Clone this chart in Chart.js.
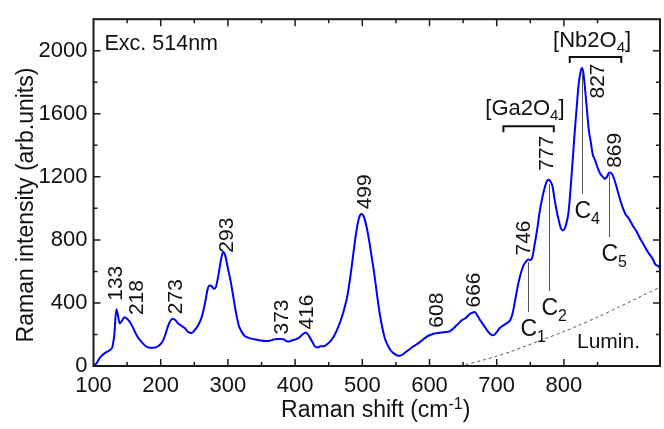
<!DOCTYPE html>
<html>
<head>
<meta charset="utf-8">
<script src="https://cdn.jsdelivr.net/npm/chart.js@4.4.1/dist/chart.umd.min.js"></script>
<style>
  html, body { margin: 0; padding: 0; background: #fff; overflow: hidden; }
  #wrap { width: 667px; height: 429px; }
</style>
</head>
<body>
<div id="wrap"><canvas id="ramanChart" width="667" height="429"></canvas></div>
<script>
// spectrum
const shift = [100,104,110,118,124,128,131,134,136,139,142,146,150,154,158,163,168,173,178,183,190,196,202,207,211,215,218,222,226,231,236,241,246,251,256,261,266,270,273,276,279,282,286,290,293,296,300,304,308,312,316,320,325,330,336,342,348,355,362,368,373,378,383,387,391,395,400,406,411,416,419,422,426,430,434,438,443,448,453,458,463,468,473,478,482,486,490,494,497,499,502,506,510,514,518,522,526,530,534,538,542,547,552,556,560,565,570,576,582,588,594,600,606,612,618,624,630,636,642,648,654,660,664,667,670,674,678,682,686,690,694,697,700,704,710,716,720,724,728,732,736,740,744,747,750,753,756,760,764,768,772,775,777,780,783,786,789,792,795,798,801,804,807,810,813,816,819,822,825,827,829,831,834,837,840,843,846,850,854,858,861,864,867,869,872,876,880,884,888,892,896,900,904,908,912,916,920,924,928,932,936,940,943];
const intensity = [0,15,55,85,100,120,200,360,330,270,285,310,300,280,250,205,170,145,125,115,115,125,150,200,255,290,300,290,270,255,240,215,210,230,260,310,400,490,510,505,490,500,580,680,725,700,620,540,440,340,260,220,190,180,172,168,162,158,160,168,172,172,170,158,155,162,168,180,200,212,200,180,150,122,118,125,125,140,160,190,235,290,360,450,560,690,820,920,960,965,950,890,800,690,580,450,330,240,170,130,100,80,67,65,73,90,105,125,140,160,180,195,205,210,212,215,220,240,265,290,305,330,338,342,330,300,275,250,225,205,195,200,215,238,258,275,290,340,430,520,590,640,665,675,672,690,760,860,980,1070,1140,1175,1182,1170,1140,1060,990,930,880,860,870,910,980,1130,1300,1480,1640,1790,1870,1890,1860,1780,1640,1500,1420,1340,1310,1260,1220,1200,1188,1200,1225,1228,1215,1170,1110,1050,1000,960,940,910,880,855,820,790,760,730,705,680,645,635,622];
// luminescence background (dotted)
const luminShift = [645,655,680,700,720,744,770,800,820,850,880,910,943];
const luminLevel = [0,10,38,62,90,128,170,218,254,310,370,432,500];

// peak labels and where they sit (data units)
const peakLabels = ['133','218','273','293','373','416','499','608','666','746','777','827','869'];
const peakLabelX = [131,162.7,220,297,378,415,502,609.6,664,738,773,848.5,873.6];
const peakLabelY = [525,434,440,830,311,342,1105,354,482,812,1350,1808,1368];

// component markers C1..C5: x, line top, line bottom (data units)
const compNames = ['1','2','4','5'];
const compX = [746,777.5,826.4,867.7];
const compTop = [660,1154,1869,1215];
const compBottom = [342,476,1093,818];

const X_MIN = 100, X_MAX = 943, Y_MIN = 0, Y_MAX = 2200;
const FONT = 'Arial, "Liberation Sans", sans-serif';

function subText(ctx, parts, x, y, align) {
  // parts: [text, size, dy]
  let w = 0;
  parts.forEach(p => { ctx.font = p[1] + 'px ' + FONT; w += ctx.measureText(p[0]).width; });
  let cx = align === 'center' ? x - w / 2 : x;
  ctx.textAlign = 'left';
  ctx.textBaseline = 'alphabetic';
  parts.forEach(p => {
    ctx.font = p[1] + 'px ' + FONT;
    ctx.fillText(p[0], cx, y + p[2]);
    cx += ctx.measureText(p[0]).width;
  });
}

const extras = {
  id: 'extras',
  afterDatasetsDraw(chart) {
    const ctx = chart.ctx, a = chart.chartArea;
    const xs = chart.scales.x, ys = chart.scales.y;
    ctx.save();

    // frame + inward ticks on all four sides
    ctx.strokeStyle = '#1a1a1a';
    ctx.lineWidth = 2;
    ctx.strokeRect(a.left, a.top, a.right - a.left, a.bottom - a.top);
    ctx.lineWidth = 1.5;
    xs.ticks.forEach(t => {
      if (t.value % 50 !== 0 || t.value <= xs.min || t.value >= xs.max) return;
      const len = t.value % 100 === 0 ? 7 : 4;
      const px = xs.getPixelForValue(t.value);
      ctx.beginPath();
      ctx.moveTo(px, a.bottom); ctx.lineTo(px, a.bottom - len);
      ctx.moveTo(px, a.top); ctx.lineTo(px, a.top + len);
      ctx.stroke();
    });
    ys.ticks.forEach(t => {
      if (t.value <= ys.min || t.value >= ys.max) return;
      const len = t.value % 400 === 0 ? 7 : 4;
      const py = ys.getPixelForValue(t.value);
      ctx.beginPath();
      ctx.moveTo(a.left, py); ctx.lineTo(a.left + len, py);
      ctx.moveTo(a.right, py); ctx.lineTo(a.right - len, py);
      ctx.stroke();
    });

    ctx.fillStyle = '#111';

    // rotated peak positions
    ctx.font = '21px ' + FONT;
    ctx.textAlign = 'center';
    ctx.textBaseline = 'alphabetic';
    peakLabels.forEach((s, i) => {
      ctx.save();
      ctx.translate(xs.getPixelForValue(peakLabelX[i]), ys.getPixelForValue(peakLabelY[i]));
      ctx.rotate(-Math.PI / 2);
      ctx.fillText(s, 0, 7.5);
      ctx.restore();
    });

    // component lines + C labels
    ctx.strokeStyle = '#555';
    ctx.lineWidth = 1;
    compX.forEach((v, i) => {
      const px = Math.round(xs.getPixelForValue(v)) + 0.5;
      ctx.beginPath();
      ctx.moveTo(px, ys.getPixelForValue(compTop[i]));
      ctx.lineTo(px, ys.getPixelForValue(compBottom[i]));
      ctx.stroke();
      const by = ys.getPixelForValue(compBottom[i]) + 24;
      subText(ctx, [['C', 23, 0], [compNames[i], 16, 6]], px - 8, by, 'left');
    });

    // oxide group brackets
    ctx.strokeStyle = '#111';
    ctx.lineWidth = 2;
    [[710, 785, 1521], [808.7, 885.4, 1960]].forEach(b => {
      const x1 = xs.getPixelForValue(b[0]), x2 = xs.getPixelForValue(b[1]), y = ys.getPixelForValue(b[2]);
      ctx.beginPath();
      ctx.moveTo(x1, y + 6); ctx.lineTo(x1, y); ctx.lineTo(x2, y); ctx.lineTo(x2, y + 6);
      ctx.stroke();
    });
    subText(ctx, [['[Ga2O', 22, 0], ['4', 15, 5], [']', 22, 0]], xs.getPixelForValue(742), ys.getPixelForValue(1594), 'center');
    subText(ctx, [['[Nb2O', 22, 0], ['4', 15, 5], [']', 22, 0]], xs.getPixelForValue(842), ys.getPixelForValue(2021), 'center');

    // free text
    ctx.font = '21.5px ' + FONT;
    ctx.textAlign = 'left';
    ctx.fillText('Exc. 514nm', a.left + 11, a.top + 31);
    ctx.font = '21px ' + FONT;
    ctx.fillText('Lumin.', 577, 348);

    // axis titles
    subText(ctx, [['Raman shift (cm', 23, 0], ['-1', 16, -8], [')', 23, 0]], (a.left + a.right) / 2 - 1, 417, 'center');
    ctx.save();
    ctx.translate(33, 205);
    ctx.rotate(-Math.PI / 2);
    ctx.font = '23px ' + FONT;
    ctx.textAlign = 'center';
    ctx.fillText('Raman intensity (arb.units)', 0, 0);
    ctx.restore();

    ctx.restore();
  }
};

new Chart(document.getElementById('ramanChart').getContext('2d'), {
  type: 'line',
  data: {
    datasets: [
      {
        label: 'Raman',
        data: shift.map((v, i) => ({ x: v, y: intensity[i] })),
        borderColor: '#0000ff',
        borderWidth: 2,
        pointRadius: 0,
        cubicInterpolationMode: 'monotone',
        fill: false
      },
      {
        label: 'Lumin.',
        data: luminShift.map((v, i) => ({ x: v, y: luminLevel[i] })),
        borderColor: '#555',
        borderWidth: 1,
        borderDash: [3, 3],
        pointRadius: 0,
        tension: 0.3,
        fill: false
      }
    ]
  },
  options: {
    responsive: false,
    animation: false,
    layout: { padding: { top: 6, right: 2, left: 0, bottom: 0 } },
    plugins: { legend: { display: false }, tooltip: { enabled: false } },
    scales: {
      x: {
        type: 'linear',
        min: X_MIN,
        max: X_MAX,
        grid: { display: false, drawTicks: false },
        border: { display: false },
        afterFit: s => { s.height = 63; },
        ticks: {
          stepSize: 50,
          autoSkip: false,
          maxRotation: 0,
          padding: 7,
          color: '#111',
          font: { family: FONT, size: 22 },
          callback: v => (v % 100 === 0 ? v : '')
        }
      },
      y: {
        min: Y_MIN,
        max: Y_MAX,
        grid: { display: false, drawTicks: false },
        border: { display: false },
        afterFit: s => { s.width = 93.5; },
        ticks: {
          stepSize: 200,
          autoSkip: false,
          padding: 6,
          color: '#111',
          font: { family: FONT, size: 22 },
          callback: v => (v % 400 === 0 ? v : '')
        }
      }
    }
  },
  plugins: [extras]
});
</script>
</body>
</html>
